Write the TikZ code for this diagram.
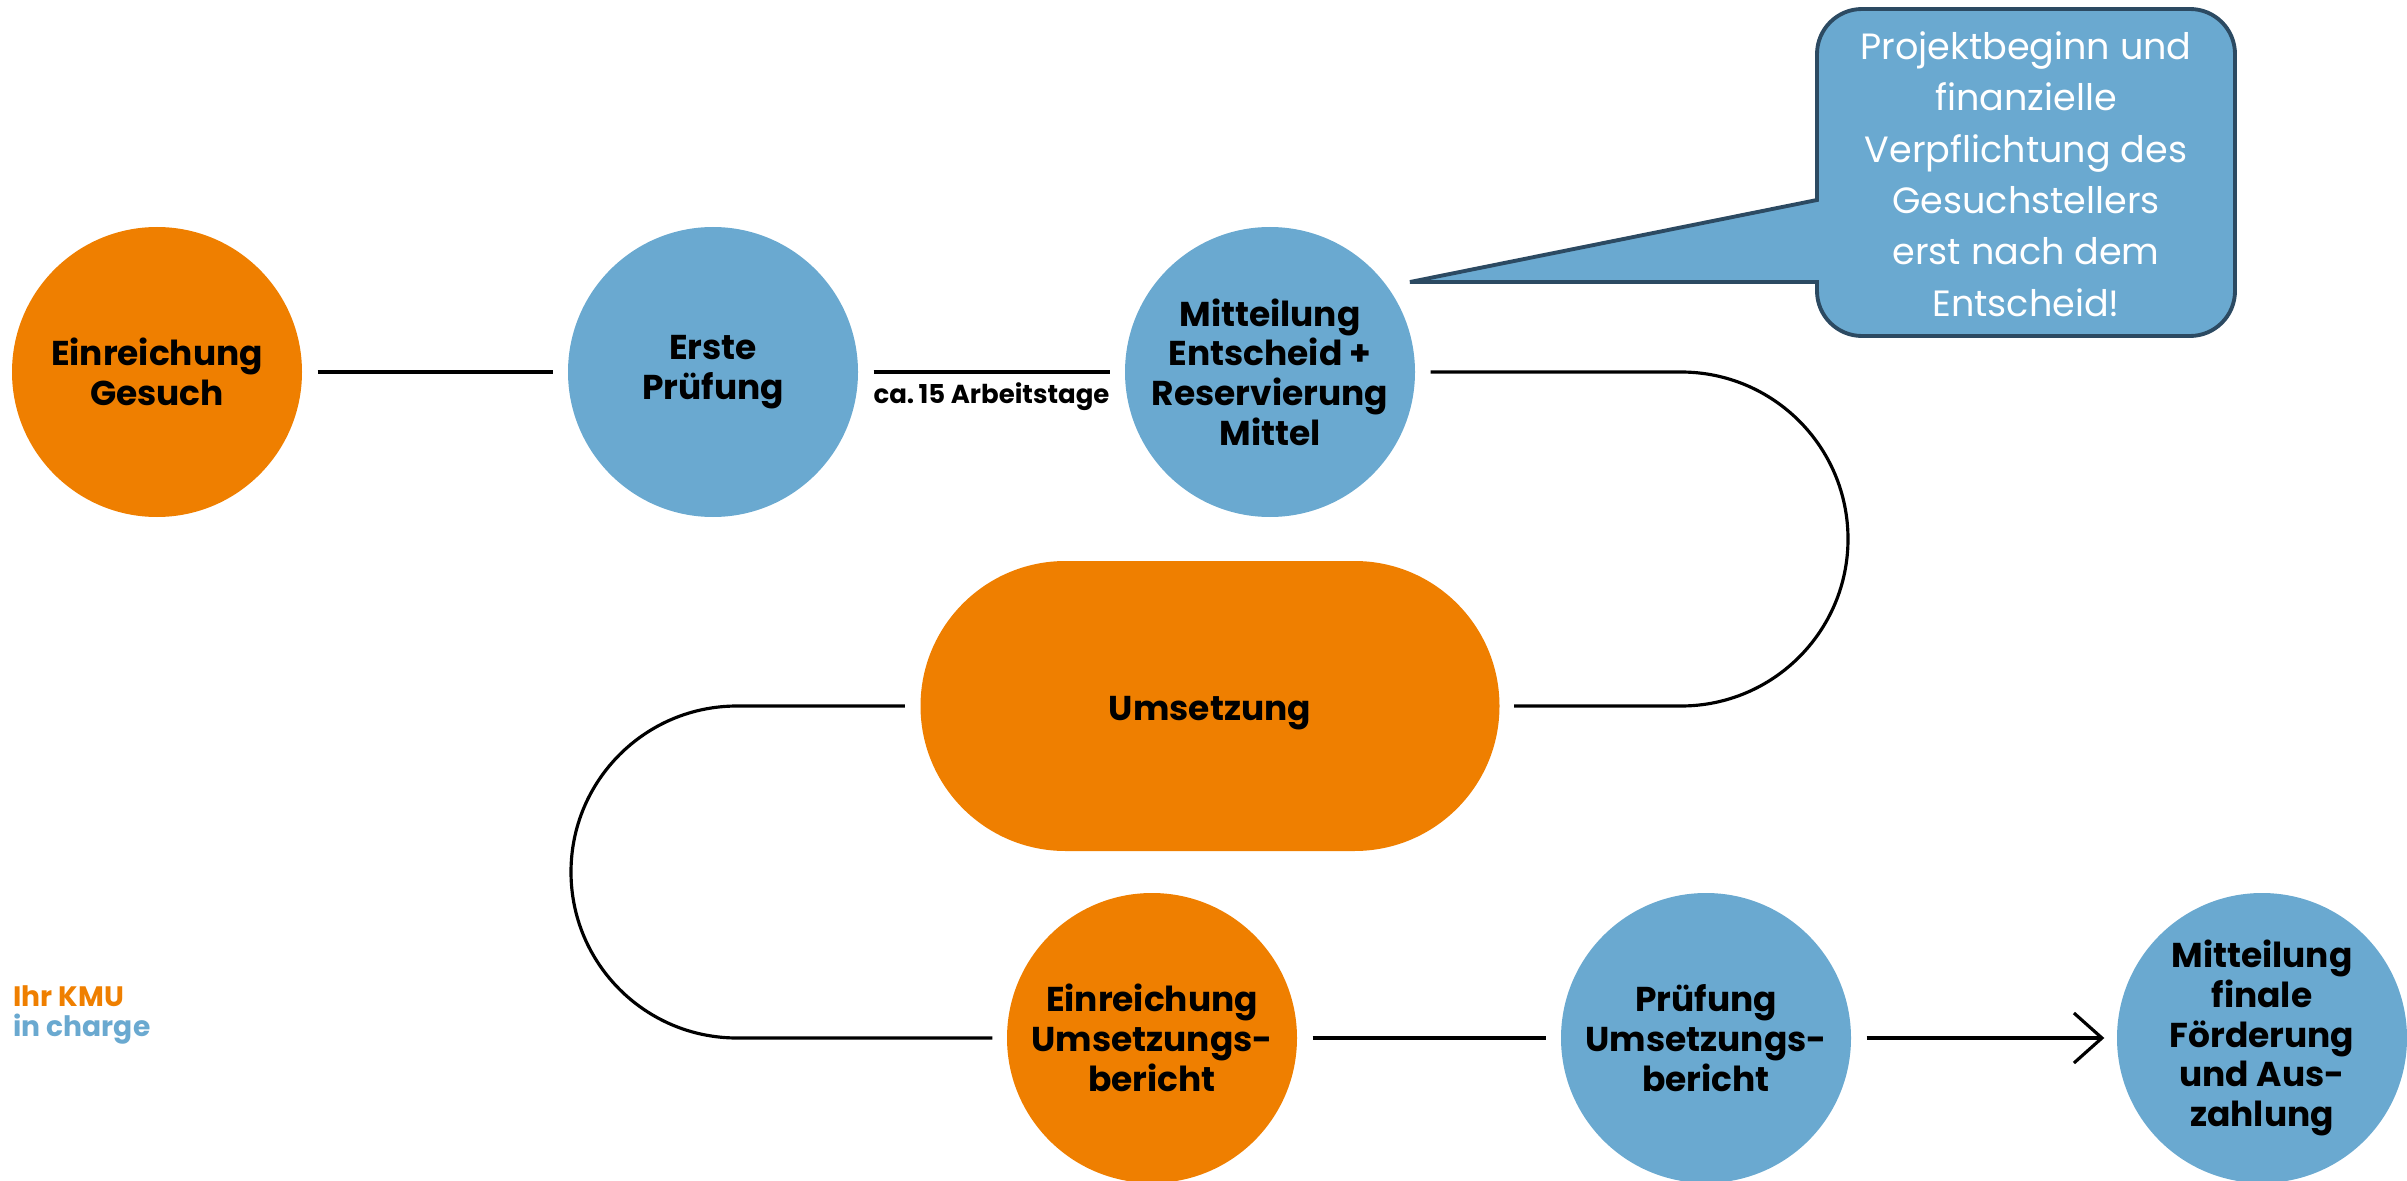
\documentclass[tikz,border=0pt]{standalone}
\usepackage{fontspec}
\setmainfont{Poppins}
\usetikzlibrary{shapes.misc,arrows.meta}
\definecolor{kmuorange}{RGB}{239,127,0}
\definecolor{kmublue}{RGB}{106,169,208}
\definecolor{calloutedge}{RGB}{44,74,98}
\begin{document}
\begin{tikzpicture}[
  stepfont/.style={font=\bfseries\fontsize{9.8}{11.3}\selectfont,
    execute at begin node={\rule{0pt}{10.8pt}}},
  stepcircle/.style={circle,minimum size=2.9cm,inner sep=0pt,align=center,stepfont},
  orangefill/.style={fill=kmuorange},
  bluefill/.style={fill=kmublue},
  conn/.style={draw=black,line width=0.9pt,shorten <=0.15cm,shorten >=0.14cm},
  callout/.style={fill=kmublue,draw=calloutedge,line width=1.1pt,line join=miter},
  labelfont/.style={font=\bfseries\fontsize{7.4}{8}\selectfont},
  legendfont/.style={font=\bfseries\fontsize{8}{9}\selectfont,anchor=west,inner sep=0pt},
]
\useasboundingbox (0,0) rectangle (24.07,-11.81);

% nodes
\node[stepcircle,orangefill] (c1) at (1.57,-3.72) {Einreichung\\Gesuch};
\node[stepcircle,bluefill] (c2) at (7.13,-3.72) {Erste\\Prüfung};
\node[stepcircle,bluefill] (c3) at (12.70,-3.72) {Mitteilung\\Entscheid +\\Reservierung\\Mittel};
\node[rounded rectangle,orangefill,minimum width=5.79cm,minimum height=2.9cm,inner sep=0pt,
      stepfont] (u) at (12.10,-7.06) {Umsetzung};
\node[stepcircle,orangefill] (c4) at (11.52,-10.38) {Einreichung\\Umsetzungs-\\bericht};
\node[stepcircle,bluefill] (c5) at (17.06,-10.38) {Prüfung\\Umsetzungs-\\bericht};
\node[stepcircle,bluefill] (c6) at (22.62,-10.38) {Mitteilung\\finale\\Förderung\\und Aus-\\zahlung};

% callout
\draw[callout] (18.17,-2.00) -- (14.10,-2.82) -- (18.17,-2.82) -- (18.17,-2.91)
  arc[start angle=180,end angle=270,radius=0.45] -- (21.90,-3.36)
  arc[start angle=270,end angle=360,radius=0.45] -- (22.35,-0.54)
  arc[start angle=0,end angle=90,radius=0.45] -- (18.62,-0.09)
  arc[start angle=90,end angle=180,radius=0.45] -- cycle;
\node[text=white,align=center,font=\fontsize{10.4}{14.6}\selectfont] (note) at (20.26,-1.74)
  {Projektbeginn und\\finanzielle\\Verpflichtung des\\Gesuchstellers\\erst nach dem\\Entscheid!};

% connectors
\draw[conn] (c1) -- (c2);
\draw[conn] (c2) -- node[midway,yshift=-0.25cm,labelfont] (lbl) {ca.\,15 Arbeitstage} (c3);
\coordinate (r1) at (16.81,-3.72);
\draw[conn] (c3.east) -- (r1) arc[start angle=90,end angle=-90,radius=1.67] -- (u.east);
\coordinate (l1) at (7.37,-7.06);
\draw[conn] (u.west) -- (l1) arc[start angle=90,end angle=270,radius=1.66] -- (c4.west);
\draw[conn] (c4) -- (c5);
\draw[conn,shorten >=0.12cm,-{Straight Barb[length=0.28cm,width=0.5cm,line width=0.9pt]}] (c5) -- (c6);

% legend
\node[legendfont,text=kmuorange] (leg1) at (0.13,-9.96) {Ihr KMU};
\node[legendfont,text=kmublue] (leg2) at (0.13,-10.29) {in charge};
\end{tikzpicture}
\end{document}
